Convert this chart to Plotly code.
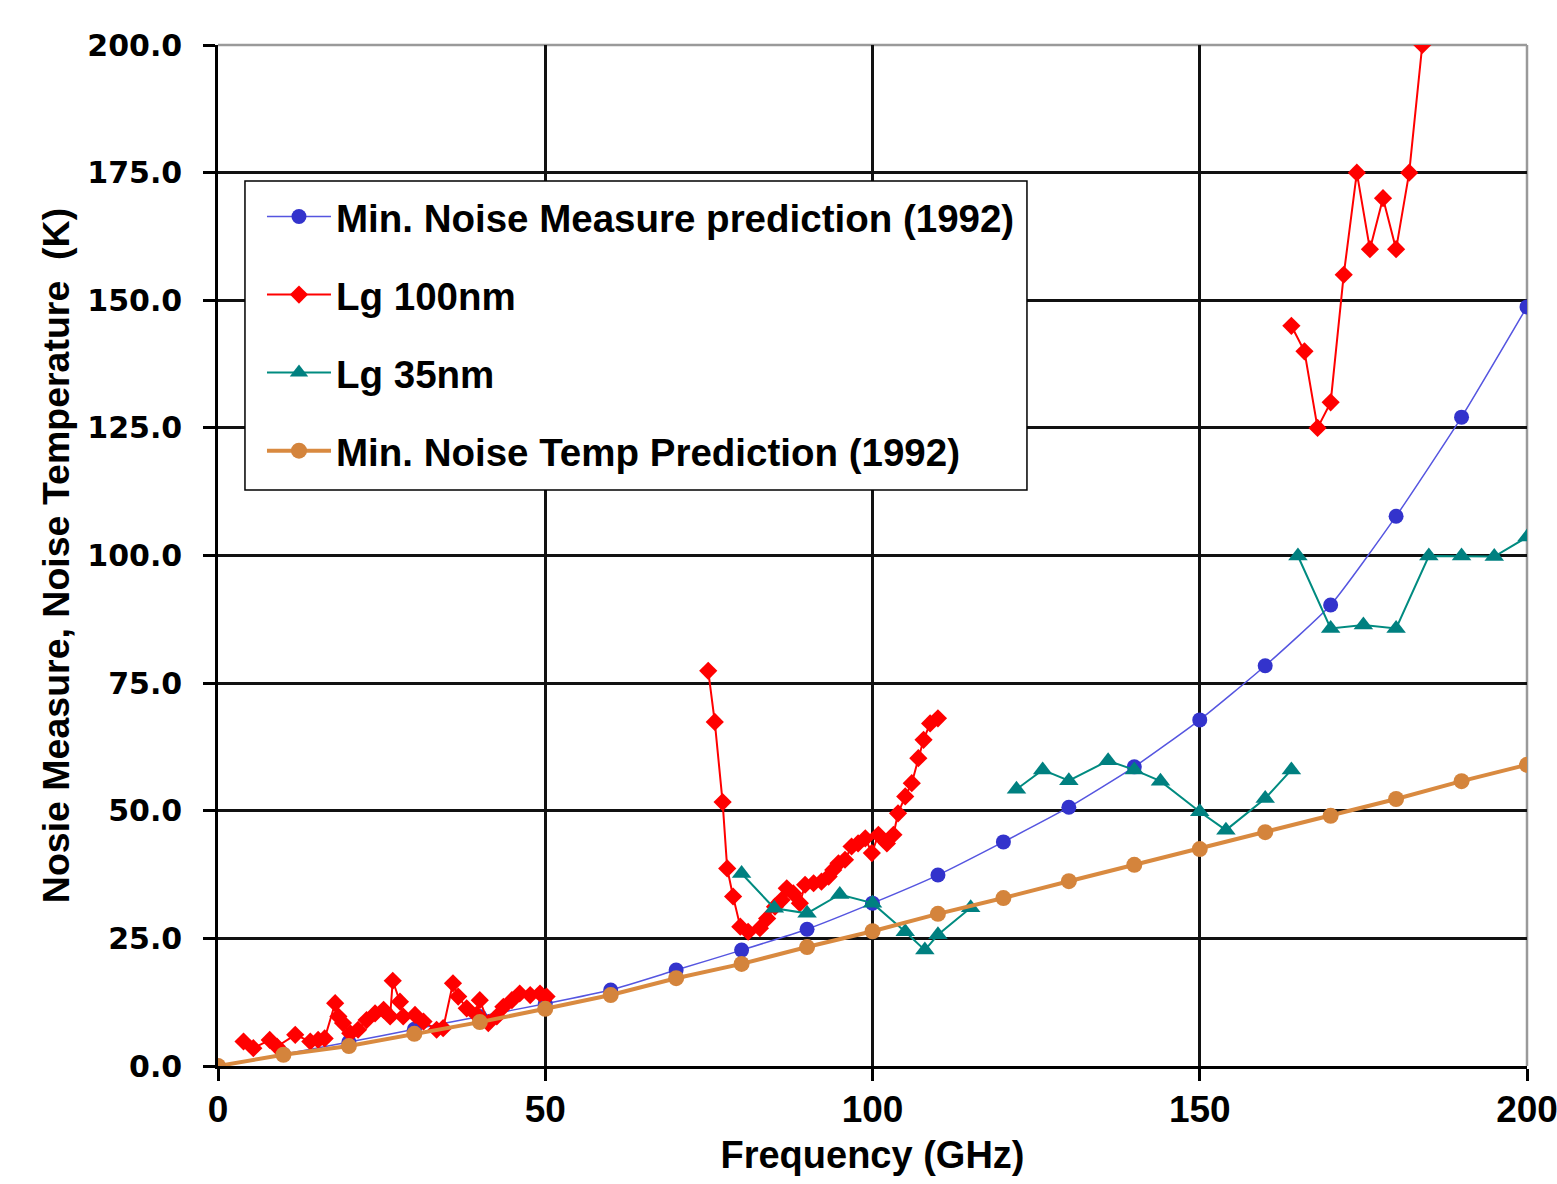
import plotly.graph_objects as go

# ---- data ----
freq_pred = [0, 10, 20, 30, 40, 50, 60, 70, 80, 90, 100, 110, 120, 130, 140, 150, 160, 170, 180, 190, 200]
noise_measure_pred = [0, 2.3, 4.7, 7.2, 9.7, 12.2, 14.9, 18.8, 22.7, 26.8, 31.9, 37.4, 43.9, 50.7, 58.6,
                      67.8, 78.4, 90.3, 107.7, 127.1, 148.7]
noise_temp_pred = [0, 2.2, 3.9, 6.3, 8.6, 11.2, 13.9, 17.2, 20.0, 23.3, 26.4, 29.8, 32.9, 36.2, 39.4,
                   42.5, 45.8, 49.0, 52.3, 55.8, 59.0]

lg100_freq = [3.9, 5.4, 7.9, 9.0, 11.8, 14.1, 15.3, 16.3, 17.9, 18.4, 19.1, 20.2, 21.4, 22.7, 24.0, 25.3,
              26.3, 26.7, 27.8, 28.3, 30.1, 31.4, 33.4, 34.4, 35.9, 36.7, 38.0, 39.5, 40.0, 41.3, 42.6,
              43.6, 44.9, 46.1, 47.7, 49.2, 50.2,
              None,
              74.9, 75.9, 77.1, 77.8, 78.7, 79.8, 81.0, 82.8, 83.9, 85.1, 86.1, 86.9, 87.9, 88.9, 89.7,
              91.0, 92.2, 93.3, 94.0, 94.8, 95.8, 96.8, 97.8, 98.9, 99.9, 100.9, 102.2, 103.2, 103.9,
              105.0, 106.0, 107.0, 107.8, 108.8, 110.0,
              None,
              164, 166, 168, 170, 172, 174, 176, 178, 180, 182, 184]
lg100_val = [4.8, 3.5, 5.1, 3.8, 6.1, 4.8, 5.1, 5.4, 12.3, 9.7, 8.4, 6.4, 7.1, 9.0, 10.3, 11.0,
             9.7, 16.7, 12.6, 9.7, 10.0, 8.7, 7.1, 7.4, 16.2, 13.6, 11.3, 10.0, 12.9, 8.4, 9.7,
             11.6, 12.9, 14.2, 13.9, 14.2, 13.6,
             None,
             77.4, 67.4, 51.7, 38.7, 33.2, 27.3, 26.3, 27.0, 28.9, 31.2, 32.5, 34.8, 33.8, 31.9, 35.5,
             35.8, 36.1, 37.1, 38.4, 39.7, 40.4, 43.0, 43.6, 44.6, 41.7, 45.3, 43.6, 45.3, 49.5,
             52.8, 55.4, 60.3, 63.9, 67.1, 68.1,
             None,
             145, 140, 125, 130, 155, 175, 160, 170, 160, 175, 200]

lg35_freq = [80, 85, 90, 95, 100, 105, 108, 110, 115,
             None,
             122, 126, 130, 136, 140, 144, 150, 154, 160, 164,
             None,
             165, 170, 175, 180, 185, 190, 195, 200]
lg35_val = [37.7, 30.9, 29.9, 33.6, 31.9, 26.3, 22.7, 25.7, 31.0,
            None,
            54.2, 58.0, 55.9, 59.8, 58.0, 55.8, 49.8, 46.2, 52.4, 58.0,
            None,
            99.9, 85.7, 86.4, 85.7, 99.9, 99.9, 99.8, 103.6]

x_ticks = [0, 50, 100, 150, 200]
y_ticks = [0, 25, 50, 75, 100, 125, 150, 175, 200]

names = ["Min. Noise Measure prediction (1992)", "Lg 100nm", "Lg 35nm", "Min. Noise Temp Prediction (1992)"]

fig = go.Figure()
fig.add_trace(go.Scatter(
    x=freq_pred, y=noise_measure_pred, name=names[0], mode="lines+markers",
    line=dict(color="#5555E0", width=1.5, shape="spline", smoothing=0.5),
    marker=dict(symbol="circle", size=15, color="#3333CC"),
    legendgroup="a"))
fig.add_trace(go.Scatter(
    x=lg100_freq, y=lg100_val, name=names[1], mode="lines+markers",
    line=dict(color="#FF0000", width=2), connectgaps=False,
    marker=dict(symbol="diamond", size=14, color="#FF0000"),
    legendgroup="b"))
fig.add_trace(go.Scatter(
    x=lg35_freq, y=lg35_val, name=names[2], mode="lines+markers",
    line=dict(color="#008B80", width=2), connectgaps=False,
    marker=dict(symbol="triangle-up", size=17, color="#008080"),
    legendgroup="c"))
fig.add_trace(go.Scatter(
    x=freq_pred, y=noise_temp_pred, name=names[3], mode="lines+markers",
    line=dict(color="#D98A40", width=4),
    marker=dict(symbol="circle", size=16, color="#D4843C"),
    legendgroup="d"))

# gray frame on top and right
fig.add_shape(type="line", xref="paper", yref="paper", x0=0, x1=1, y0=1, y1=1,
              line=dict(color="#9a9a9a", width=2.5), layer="between")
fig.add_shape(type="line", xref="paper", yref="paper", x0=1, x1=1, y0=0, y1=1,
              line=dict(color="#9a9a9a", width=2.5), layer="between")
# legend box
fig.add_shape(type="rect", xref="paper", yref="paper", x0=0.0206, x1=0.618, y0=0.5642, y1=0.8668,
              line=dict(color="black", width=1.5), fillcolor="white", layer="above")

fig.update_layout(
    width=1557, height=1184,
    margin=dict(l=218, r=30, t=45, b=118, autoexpand=False),
    paper_bgcolor="white", plot_bgcolor="white",
    font=dict(family="Liberation Sans, Arial, sans-serif", color="black"),
    showlegend=True,
    legend=dict(
        x=0.0336, y=0.8629, xanchor="left", yanchor="top",
        bgcolor="rgba(0,0,0,0)", borderwidth=0,
        font=dict(family="Liberation Sans, Arial, sans-serif", size=38.5, weight="bold", color="black"),
        itemwidth=64, tracegroupgap=25, traceorder="grouped",
    ),
    xaxis=dict(
        range=[0, 200], tickvals=x_ticks, ticktext=[str(v) for v in x_ticks],
        automargin=False,
        showgrid=True, gridcolor="#111111", gridwidth=2.5,
        showline=True, linecolor="black", linewidth=2.5,
        ticks="outside", ticklen=12, tickwidth=2.5, tickcolor="black",
        tickfont=dict(family="Liberation Sans, Arial, sans-serif", size=37, weight="bold"),
        ticklabelstandoff=-3, ticklabeloverflow="allow",
        zeroline=False,
        title=dict(text="Frequency (GHz)", standoff=13,
                   font=dict(family="Liberation Sans, Arial, sans-serif", size=38, weight="bold")),
    ),
    yaxis=dict(
        range=[0, 200], tickvals=y_ticks, ticktext=[f"{v:.1f}" for v in y_ticks],
        automargin=False,
        showgrid=True, gridcolor="#111111", gridwidth=2.5,
        showline=True, linecolor="black", linewidth=2.5,
        ticks="outside", ticklen=12, tickwidth=2.5, tickcolor="black",
        tickfont=dict(family="DejaVu Sans, Verdana, sans-serif", size=30, weight="bold"),
        ticklabelstandoff=15,
        zeroline=False,
        title=dict(text="Nosie Measure, Noise Temperature  (K)", standoff=7,
                   font=dict(family="Liberation Sans, Arial, sans-serif", size=37.5, weight="bold")),
    ),
)

fig.write_html("out.html", config={"displayModeBar": False},
               post_script="document.body.style.margin='0';document.body.style.overflow='hidden';")
